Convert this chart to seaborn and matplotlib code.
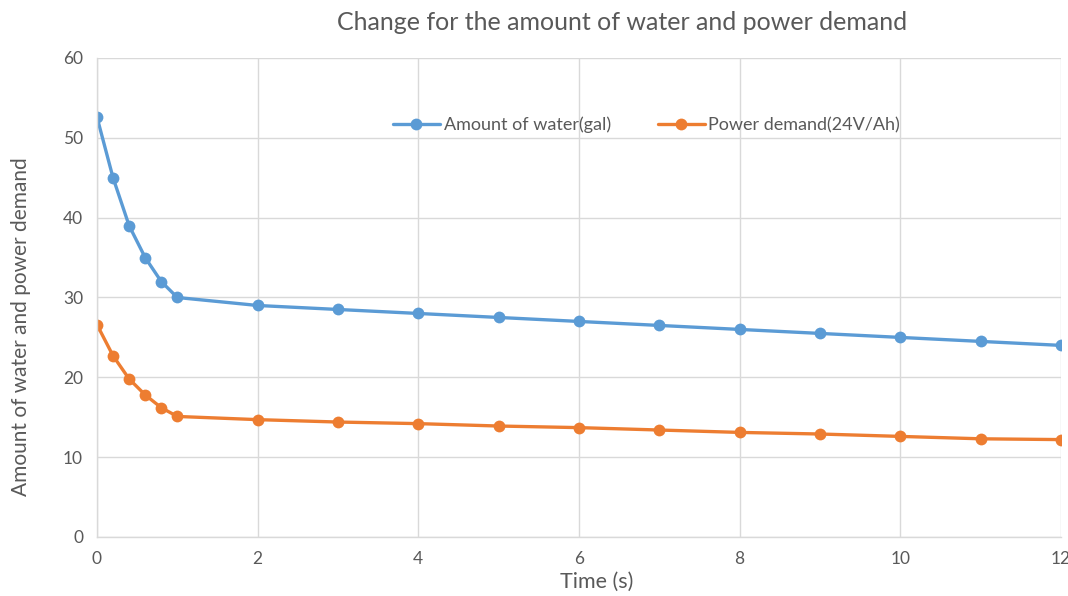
import matplotlib
matplotlib.use("Agg")
import matplotlib.pyplot as plt
import seaborn as sns
import pandas as pd

# Time stamps (s) and the two measured series
time_s = [0, 0.2, 0.4, 0.6, 0.8, 1, 2, 3, 4, 5, 6, 7, 8, 9, 10, 11, 12]
water_gal = [52.6, 45.0, 39.0, 35.0, 32.0, 30.0, 29.0, 28.5, 28.0, 27.5, 27.0,
             26.5, 26.0, 25.5, 25.0, 24.5, 24.0]
power_demand = [26.6, 22.7, 19.8, 17.8, 16.2, 15.1, 14.7, 14.4, 14.2, 13.9, 13.7,
                13.4, 13.1, 12.9, 12.6, 12.3, 12.2]
series_names = ["Amount of water(gal)", "Power demand(24V/Ah)"]
x_ticks = [0, 2, 4, 6, 8, 10, 12]
y_ticks = [0, 10, 20, 30, 40, 50, 60]

df = pd.DataFrame({
    "Time": time_s * 2,
    "Value": water_gal + power_demand,
    "Series": [series_names[0]] * len(time_s) + [series_names[1]] * len(time_s),
})

sns.set_theme(style="whitegrid")
plt.rcParams["font.family"] = ["Lato", "DejaVu Sans"]

text_gray = "#595959"
grid_gray = "#d9d9d9"

fig = plt.figure(figsize=(10.68, 5.96), dpi=100)
ax = fig.add_axes([0.0908, 0.099, 0.9026, 0.8037])

sns.lineplot(data=df, x="Time", y="Value", hue="Series",
             palette=["#5B9BD5", "#ED7D31"], marker="o", markersize=8.5,
             markeredgewidth=0, linewidth=2.4, ax=ax)

ax.set_xlim(0, 12)
ax.set_ylim(0, 60)
ax.set_xticks(x_ticks)
ax.set_yticks(y_ticks)
ax.grid(True, color=grid_gray, linewidth=1.0)
ax.set_axisbelow(True)
for side in ["top", "right"]:
    ax.spines[side].set_visible(False)
for side in ["left", "bottom"]:
    ax.spines[side].set_color(grid_gray)
    ax.spines[side].set_linewidth(1.0)
ax.tick_params(axis="both", colors=text_gray, labelsize=12.5, length=0, pad=10)
for lbl in ax.get_xticklabels() + ax.get_yticklabels():
    lbl.set_color(text_gray)

ax.set_xlabel("Time (s)", fontsize=15.5, color=text_gray)
ax.xaxis.set_label_coords(0.518, -0.072)
ax.set_ylabel("Amount of water and power demand", fontsize=15, color=text_gray)
ax.yaxis.set_label_coords(-0.068, 0.44)

fig.text(0.582, 0.962, "Change for the amount of water and power demand",
         ha="center", va="center", fontsize=18, color=text_gray)

leg = ax.legend(loc="center", bbox_to_anchor=(0.57, 0.86), ncol=2, frameon=False,
                fontsize=13, handlelength=2.6, handletextpad=0.2, columnspacing=2.6)
for t in leg.get_texts():
    t.set_color(text_gray)

fig.savefig("out.png", dpi=100)
